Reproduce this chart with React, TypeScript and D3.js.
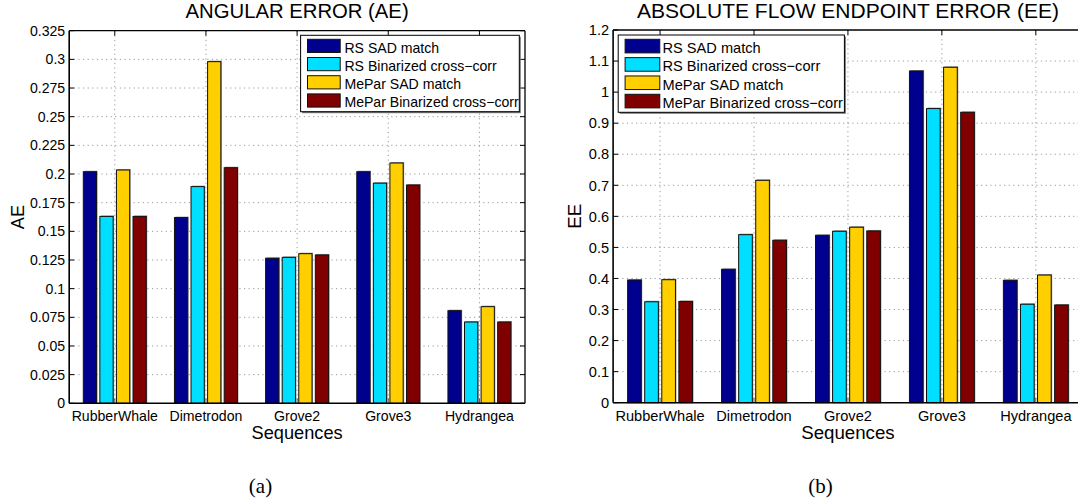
import React from "react";
import * as d3 from "d3";

const categories = ["RubberWhale", "Dimetrodon", "Grove2", "Grove3", "Hydrangea"];
const seriesNames = ["RS SAD match", "RS Binarized cross\u2212corr", "MePar SAD match", "MePar Binarized cross\u2212corr"];
const seriesColors = ["#00008F", "#00DFFF", "#FFCF00", "#800000"];

const aeRsSad = [0.202, 0.162, 0.1265, 0.202, 0.0808];
const aeRsBin = [0.163, 0.189, 0.1273, 0.192, 0.0709];
const aeMpSad = [0.2035, 0.298, 0.1305, 0.2096, 0.0843];
const aeMpBin = [0.163, 0.2055, 0.1294, 0.1904, 0.0709];

const eeRsSad = [0.395, 0.4295, 0.539, 1.068, 0.394];
const eeRsBin = [0.325, 0.541, 0.552, 0.947, 0.317];
const eeMpSad = [0.396, 0.716, 0.565, 1.08, 0.411];
const eeMpBin = [0.326, 0.523, 0.553, 0.935, 0.3146];

const aeTicks = [0, 0.025, 0.05, 0.075, 0.1, 0.125, 0.15, 0.175, 0.2, 0.225, 0.25, 0.275, 0.3, 0.325];
const aeTickLabels = ["0", "0.025", "0.05", "0.075", "0.1", "0.125", "0.15", "0.175", "0.2", "0.225", "0.25", "0.275", "0.3", "0.325"];
const eeTicks = [0, 0.1, 0.2, 0.3, 0.4, 0.5, 0.6, 0.7, 0.8, 0.9, 1.0, 1.1, 1.2];
const eeTickLabels = ["0", "0.1", "0.2", "0.3", "0.4", "0.5", "0.6", "0.7", "0.8", "0.9", "1", "1.1", "1.2"];

const SANS = "'Liberation Sans', Arial, Helvetica, sans-serif";
const SERIF = "'Liberation Serif', 'Times New Roman', serif";

type PanelProps = {
  left: number;
  right: number;
  boxRight: number;
  top: number;
  bottom: number;
  yMax: number;
  ticks: number[];
  tickLabels: string[];
  series: number[][];
  title: string;
  ylabel: string;
  ylabelX: number;
  caption: string;
  captionX: number;
  fs: number;
  titleFs: number;
  labelFs: number;
  legend: { x0: number; x1: number; y0: number; y1: number; swX0: number; swX1: number; textX: number; rowTop: number; rowStep: number; swH: number };
  drawRightBorder: boolean;
};

function Panel(p: PanelProps) {
  const x = d3.scaleLinear().domain([0.5, categories.length + 0.5]).range([p.left, p.right]);
  const y = d3.scaleLinear().domain([0, p.yMax]).range([p.bottom, p.top]);
  const nS = p.series.length;
  const groupW = Math.min(0.8, nS / (nS + 1.5));
  const step = groupW / nS;
  const barW = 0.8 * step;
  const pxPerUnit = x(1) - x(0);
  const bw = barW * pxPerUnit;
  const tickLen = 5;
  const cx = (p.left + p.right) / 2;
  const cy = (p.top + p.bottom) / 2;
  const L = p.legend;
  return (
    <g>
      {/* grid */}
      {categories.map((c, i) => (
        <line key={"gx" + i} x1={x(i + 1)} x2={x(i + 1)} y1={p.top} y2={p.bottom} stroke="#9a9a9a" strokeWidth={1} strokeDasharray="1.2,3.4" />
      ))}
      {p.ticks.map((t, i) =>
        i === 0 || i === p.ticks.length - 1 ? null : (
          <line key={"gy" + i} x1={p.left} x2={p.boxRight} y1={y(t)} y2={y(t)} stroke="#9a9a9a" strokeWidth={1} strokeDasharray="1.2,3.4" />
        )
      )}
      {/* ticks */}
      {p.ticks.map((t, i) => (
        <g key={"ty" + i}>
          <line x1={p.left} x2={p.left + tickLen} y1={y(t)} y2={y(t)} stroke="#000" strokeWidth={1} />
          {p.drawRightBorder && <line x1={p.boxRight} x2={p.boxRight - tickLen} y1={y(t)} y2={y(t)} stroke="#000" strokeWidth={1} />}
        </g>
      ))}
      {categories.map((c, i) => (
        <g key={"tx" + i}>
          <line x1={x(i + 1)} x2={x(i + 1)} y1={p.bottom} y2={p.bottom - tickLen} stroke="#555" strokeWidth={1} />
          <line x1={x(i + 1)} x2={x(i + 1)} y1={p.top} y2={p.top + tickLen} stroke="#000" strokeWidth={1} />
        </g>
      ))}
      {/* bars */}
      {p.series.map((vals, j) =>
        vals.map((v, i) => {
          const center = x(i + 1 - groupW / 2 + step * (j + 0.5));
          const x0 = center - bw / 2;
          const yt = y(v);
          const h = p.bottom - yt;
          return (
            <g key={"b" + j + "_" + i}>
              <rect x={x0 + 1} y={yt - 1} width={bw} height={h + 1} fill="#9a9a9a" />
              <rect x={x0} y={yt} width={bw} height={h} fill={seriesColors[j]} stroke="#111" strokeWidth={1} />
            </g>
          );
        })
      )}
      {/* box */}
      <line x1={p.left} x2={p.boxRight} y1={p.top} y2={p.top} stroke="#000" strokeWidth={1.3} />
      <line x1={p.left} x2={p.boxRight} y1={p.bottom} y2={p.bottom} stroke="#000" strokeWidth={1.6} />
      <line x1={p.left} x2={p.left} y1={p.top} y2={p.bottom} stroke="#000" strokeWidth={1.6} />
      {p.drawRightBorder && <line x1={p.boxRight} x2={p.boxRight} y1={p.top} y2={p.bottom} stroke="#000" strokeWidth={1.3} />}
      {/* y tick labels */}
      {p.ticks.map((t, i) => (
        <text key={"yl" + i} x={p.left - 4} y={y(t)} dy="0.36em" textAnchor="end" fontFamily={SANS} fontSize={p.fs} fill="#000">
          {p.tickLabels[i]}
        </text>
      ))}
      {/* x tick labels */}
      {categories.map((c, i) => (
        <text key={"xl" + i} x={x(i + 1)} y={p.bottom + 18} textAnchor="middle" fontFamily={SANS} fontSize={p.fs} fill="#000">
          {c}
        </text>
      ))}
      {/* axis labels */}
      <text x={cx} y={p.bottom + 36} textAnchor="middle" fontFamily={SANS} fontSize={p.labelFs} fill="#000">Sequences</text>
      <text transform={`translate(${p.ylabelX},${cy}) rotate(-90)`} textAnchor="middle" fontFamily={SANS} fontSize={p.labelFs} fill="#000">
        {p.ylabel}
      </text>
      <text x={cx} y={18} textAnchor="middle" fontFamily={SANS} fontSize={p.titleFs} fill="#000">{p.title}</text>
      {/* legend */}
      <rect x={L.x0 + 1.5} y={L.y0 + 1.5} width={L.x1 - L.x0} height={L.y1 - L.y0} fill="#777" />
      <rect x={L.x0} y={L.y0} width={L.x1 - L.x0} height={L.y1 - L.y0} fill="#fff" stroke="#000" strokeWidth={1} />
      <clipPath id={"clip" + p.caption}>
        <rect x={L.x0} y={L.y0} width={L.x1 - L.x0 - 1} height={L.y1 - L.y0} />
      </clipPath>
      <g clipPath={`url(#clip${p.caption})`}>
        {seriesNames.map((s, j) => {
          const ty = L.rowTop + j * L.rowStep;
          return (
            <g key={"lg" + j}>
              <rect x={L.swX0} y={ty} width={L.swX1 - L.swX0} height={L.swH} fill={seriesColors[j]} stroke="#111" strokeWidth={1} />
              <text x={L.textX} y={ty + L.swH} fontFamily={SANS} fontSize={p.fs} fill="#000">{s}</text>
            </g>
          );
        })}
      </g>
      <text x={p.captionX} y={493} textAnchor="middle" fontFamily={SERIF} fontSize={21} fill="#000">{p.caption}</text>
    </g>
  );
}

export default function App() {
  return (
    <svg width={1078} height={503} style={{ position: "absolute", left: 0, top: 0, background: "#fff" }}>
      <rect x={0} y={0} width={1078} height={503} fill="#fff" />
      <Panel
        left={69.2}
        right={525}
        boxRight={525}
        top={30.7}
        bottom={403.3}
        yMax={0.325}
        ticks={aeTicks}
        tickLabels={aeTickLabels}
        series={[aeRsSad, aeRsBin, aeMpSad, aeMpBin]}
        title="ANGULAR ERROR (AE)"
        ylabel="AE"
        ylabelX={24}
        caption="(a)"
        captionX={260.5}
        fs={14.1}
        titleFs={20.3}
        labelFs={18.2}
        legend={{ x0: 300.6, x1: 519.3, y0: 35.3, y1: 111.7, swX0: 307.5, swX1: 340.2, textX: 344.4, rowTop: 39.3, rowStep: 18.2, swH: 13.2 }}
        drawRightBorder={true}
      />
      <Panel
        left={613.1}
        right={1082.8}
        boxRight={1090}
        top={30}
        bottom={402.7}
        yMax={1.2}
        ticks={eeTicks}
        tickLabels={eeTickLabels}
        series={[eeRsSad, eeRsBin, eeMpSad, eeMpBin]}
        title="ABSOLUTE FLOW ENDPOINT ERROR (EE)"
        ylabel="EE"
        ylabelX={581}
        caption="(b)"
        captionX={820.5}
        fs={14.6}
        titleFs={21}
        labelFs={18.7}
        legend={{ x0: 618.2, x1: 844.4, y0: 35, y1: 112.3, swX0: 625.1, swX1: 659.8, textX: 662.5, rowTop: 39.3, rowStep: 18.33, swH: 13.6 }}
        drawRightBorder={false}
      />
    </svg>
  );
}
